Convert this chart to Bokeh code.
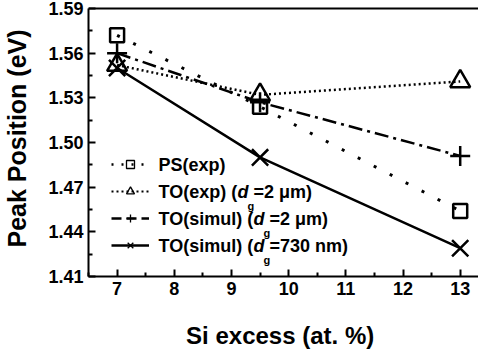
from bokeh.plotting import figure
from bokeh.models import (ColumnDataSource, FixedTicker, PrintfTickFormatter,
                          Legend, LegendItem, Label, Range1d, Span)
from bokeh.embed import file_html
from bokeh.resources import INLINE

# ---- data ----
si_excess = [7, 9.5, 13]
ps_exp = [1.572, 1.524, 1.454]
to_exp = [1.552, 1.532, 1.541]
to_sim_2um = [1.560, 1.527, 1.491]
to_sim_730nm = [1.550, 1.490, 1.429]

x_ticks = [7, 8, 9, 10, 11, 12, 13]
x_minor = [6.5, 7.5, 8.5, 9.5, 10.5, 11.5, 12.5]
y_ticks = [1.41, 1.44, 1.47, 1.50, 1.53, 1.56, 1.59]
y_minor = [1.425, 1.455, 1.485, 1.515, 1.545, 1.575]

x_title = "Si excess  (at. %)"
y_title = "Peak Position (eV)"
legend_prefix = ["PS(exp)", "TO(exp) (", "TO(simul) (", "TO(simul) ("]
legend_suffix = [None, "=2 \u03bcm)", "=2 \u03bcm)", "=730 nm)"]

FONT = "Liberation Sans"
BLACK = "#000000"

Y0, Y1 = y_ticks[0], y_ticks[-1]
PLOT_H = 268          # px between 1.41 and 1.59
PAD_TOP = 8           # px of headroom above the top frame line
y_end = Y1 + PAD_TOP * (Y1 - Y0) / PLOT_H

p = figure(frame_width=390, frame_height=PLOT_H + PAD_TOP, output_backend="svg",
           toolbar_location=None,
           x_range=Range1d(6.5, 13.32), y_range=Range1d(Y0, y_end),
           min_border_left=84, min_border_right=0, min_border_top=0, min_border_bottom=0)
p.outline_line_color = None
p.grid.visible = False
p.background_fill_color = "white"
p.border_fill_color = "white"

src = ColumnDataSource(dict(x=si_excess, ps=ps_exp, toe=to_exp, ts2=to_sim_2um, ts7=to_sim_730nm))

# series
p.line("x", "ps", source=src, line_color=BLACK, line_width=3, line_dash="3 15")
p.scatter("x", "ps", source=src, marker="square", size=14, fill_color=None, line_color=BLACK, line_width=2.5)

p.line("x", "toe", source=src, line_color=BLACK, line_width=2.5, line_dash="2 3")
p.scatter("x", "toe", source=src, marker="triangle", size=20, fill_color=None, line_color=BLACK, line_width=2.5)

p.line("x", "ts2", source=src, line_color=BLACK, line_width=2.5, line_dash="14 5 3 5")
p.scatter("x", "ts2", source=src, marker="cross", size=20, line_color=BLACK, line_width=2.5)

p.line("x", "ts7", source=src, line_color=BLACK, line_width=2.5)
p.scatter("x", "ts7", source=src, marker="x", size=23, line_color=BLACK, line_width=2.5)

# top frame line
p.add_layout(Span(location=Y1, dimension="width", line_color=BLACK, line_width=2))

# axes
xa = p.below[0]
ya = p.left[0]
for ax in (xa, ya):
    ax.axis_line_width = 2
    ax.axis_line_color = BLACK
    ax.major_tick_in = 7
    ax.major_tick_out = 0
    ax.minor_tick_in = 4
    ax.minor_tick_out = 0
    ax.major_tick_line_width = 2
    ax.minor_tick_line_width = 2
    ax.major_tick_line_color = BLACK
    ax.minor_tick_line_color = BLACK
    ax.major_label_text_font = FONT
    ax.major_label_text_font_style = "bold"
    ax.major_label_text_font_size = "18px"
    ax.major_label_text_color = BLACK
    ax.major_label_standoff = 5
    ax.axis_label_text_font = FONT
    ax.axis_label_text_font_style = "bold"
    ax.axis_label_text_color = BLACK

xa.ticker = FixedTicker(ticks=x_ticks, minor_ticks=x_minor)
ya.ticker = FixedTicker(ticks=y_ticks, minor_ticks=y_minor)
ya.bounds = (Y0, Y1)
ya.formatter = PrintfTickFormatter(format="%.2f")
ya.axis_label = y_title
ya.axis_label_text_font_size = "25px"
ya.axis_label_standoff = 14
xa.axis_label = x_title
xa.axis_label_text_font_size = "24px"
xa.axis_label_standoff = 24

# legend glyphs (hidden copies of the series, styled for the key)
kw_l = dict(source=src, line_color=BLACK, visible=False)
l1 = p.line("x", "ps", line_width=2.5, line_dash="2 8", **kw_l)
m1 = p.scatter("x", "ps", marker="square", fill_color=None, line_width=1.3, **kw_l)
l2 = p.line("x", "toe", line_width=2, line_dash="2 3", **kw_l)
m2 = p.scatter("x", "toe", marker="triangle", fill_color=None, line_width=1.3, **kw_l)
l3 = p.line("x", "ts2", line_width=2.5, line_dash="10 5", **kw_l)
m3 = p.scatter("x", "ts2", marker="cross", line_width=1.3, **kw_l)
l4 = p.line("x", "ts7", line_width=2.5, **kw_l)
m4 = p.scatter("x", "ts7", marker="x", line_width=1.3, **kw_l)

legend = Legend(items=[LegendItem(label=" ", renderers=[l1, m1]),
                       LegendItem(label=" ", renderers=[l2, m2]),
                       LegendItem(label=" ", renderers=[l3, m3]),
                       LegendItem(label=" ", renderers=[l4, m4])],
                location=(23, 21), glyph_width=38, glyph_height=20, spacing=7, padding=0,
                margin=0, label_standoff=0, label_width=0, label_height=20,
                border_line_alpha=0, background_fill_alpha=0, label_text_font_size="1px")
p.add_layout(legend)

# legend texts (rich: italic d with subscript g)
W = {" ": 278, "(": 333, ")": 333, ".": 278, "=": 584, "T": 611, "O": 778, "P": 667, "S": 667,
     "e": 556, "x": 556, "p": 611, "s": 556, "i": 278, "m": 889, "u": 611, "l": 278, "n": 611,
     "\u03bc": 611}
for d in "0123456789":
    W[d] = 556

def width(s, size):
    return sum(W.get(c, 556) for c in s) * size / 1000.0

FS = 18
tx = 70
for i, (pre, suf) in enumerate(zip(legend_prefix, legend_suffix)):
    ry = 112 - 27 * i
    kw = dict(x_units="screen", y_units="screen", text_font=FONT, text_font_style="bold",
              text_color=BLACK)
    p.add_layout(Label(x=tx, y=ry, text=pre, text_baseline="middle", text_font_size=f"{FS}px", **kw))
    if suf is not None:
        dx = tx + width(pre, FS)
        p.add_layout(Label(x=dx, y=ry, text="d", text_baseline="middle", text_font_size=f"{FS}px",
                           x_units="screen", y_units="screen", text_font=FONT,
                           text_font_style="bold italic", text_color=BLACK))
        dw = 0.611 * FS
        p.add_layout(Label(x=dx + dw - 1, y=ry - 14, text="g", text_baseline="alphabetic",
                           text_font_size="11px", **kw))
        p.add_layout(Label(x=dx + dw + 5, y=ry, text=suf, text_baseline="middle",
                           text_font_size=f"{FS}px", **kw))

open("out.html", "w").write(file_html(p, INLINE))
